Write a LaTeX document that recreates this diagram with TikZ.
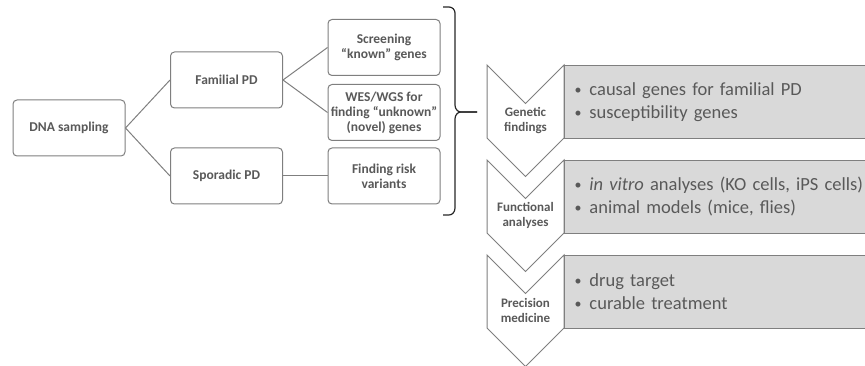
\documentclass[tikz,border=0pt]{standalone}
\usepackage{fontspec}
\setmainfont{Carlito}
\usepackage{tikz}
\usetikzlibrary{trees}

\definecolor{linegray}{HTML}{7F7F7F}
\definecolor{textgray}{HTML}{595959}
\definecolor{boxgray}{HTML}{D9D9D9}
\newcommand{\itemdot}{{\fontsize{14}{14}\selectfont\raisebox{1pt}{•}}\hspace{8pt}}

\begin{document}
\begin{tikzpicture}[
  x=1pt, y=-1pt,
  stepbox/.style={draw=linegray, line width=1pt, fill=white, rounded corners=4pt,
    minimum width=112pt, minimum height=56pt, inner sep=1pt, align=center,
    text=textgray, font=\fontsize{13.5}{15}\selectfont\bfseries},
  chevron/.style={draw=linegray, line width=1pt, fill=white, line join=miter},
  stagelabel/.style={align=center, inner sep=0pt, text=textgray,
    font=\fontsize{13}{15}\selectfont\bfseries},
  infobox/.style={draw=linegray, line width=1pt, fill=boxgray, anchor=north west,
    minimum height=73pt, text width=300pt, inner xsep=10pt, align=left,
    text=textgray, font=\fontsize{18.5}{23}\selectfont},
  level distance=157.5pt,
  level 1/.style={sibling distance=96pt},
  level 2/.style={sibling distance=65pt},
  grow'=right,
  edge from parent/.style={draw=linegray, line width=1pt},
  edge from parent path={(\tikzparentnode.east) -- (\tikzchildnode.west)}]
  \useasboundingbox (0,0) rectangle (865,366);
  \clip (0,0) rectangle (865,366);

  % sampling tree
  \node[stepbox] (dna) at (69,128) {DNA sampling}
    child {node[stepbox] (familial) {Familial PD}
      child {node[stepbox] (screening) {Screening\\“known” genes}}
      child {node[stepbox] (wes) {WES/WGS for\\finding “unknown”\\(novel) genes}}
    }
    child {node[stepbox] (sporadic) {Sporadic PD}
      child {node[stepbox] (risk) {Finding risk\\variants}}
    };

  % brace
  \coordinate (bracetip) at (477,112);
  \draw[line width=1.2pt, black!85] (443,7) -- (449,7) to[out=0,in=90] (455,13)
    -- (455,105) to[out=270,in=180] (461,112) -- (bracetip);
  \draw[line width=1.2pt, black!85] (bracetip) -- (461,112) to[out=180,in=90] (455,119)
    -- (455,208) to[out=270,in=0] (449,215) -- (443,215);

  % stages
  \foreach \top/\name/\lbl/\items in {
    65/genetic/{Genetic\\findings}/{\itemdot causal genes for familial PD\\\itemdot susceptibility genes},
    160/functional/{Functional\\analyses}/{\itemdot\textit{in vitro} analyses (KO cells, iPS cells)\\\itemdot animal models (mice, flies)},
    255/precision/{Precision\\medicine}/{\itemdot drug target\\\itemdot curable treatment}}
  {
    \draw[chevron] (487,\top) -- (525.5,\top+38.5) -- (564,\top) -- (564,\top+73)
      -- (525.5,\top+111.5) -- (487,\top+73) -- cycle;
    \node[stagelabel] (\name lbl) at (525.5,\top+55.75) {\lbl};
    \node[infobox] (\name box) at (564,\top) {\items};
  }
\end{tikzpicture}
\end{document}
